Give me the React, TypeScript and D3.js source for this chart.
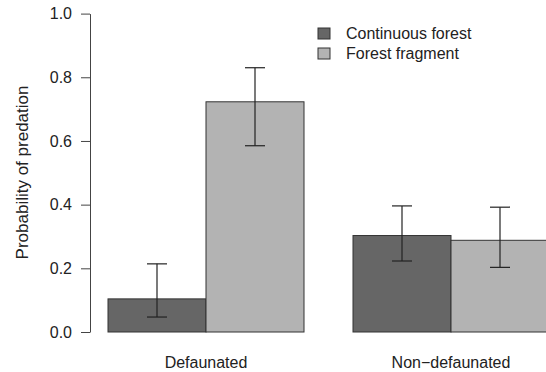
import React, { useEffect, useRef } from "react"
import * as d3 from "d3"

// data
const groups = ["Defaunated", "Non\u2212defaunated"]
const series = ["Continuous forest", "Forest fragment"]
const colors = ["#666666", "#b3b3b3"]
const means = [
    [0.104, 0.723],
    [0.303, 0.288],
]
const lower = [
    [0.047, 0.585],
    [0.223, 0.203],
]
const upper = [
    [0.214, 0.83],
    [0.396, 0.392],
]
const yTicks = [0, 0.2, 0.4, 0.6, 0.8, 1.0]

const W = 546
const H = 372
const FONT = "'Liberation Sans', Arial, Helvetica, sans-serif"

export default function App() {
    const ref = useRef<SVGSVGElement>(null)

    useEffect(() => {
        document.body.style.margin = "0"
        const svg = d3.select(ref.current)
        svg.selectAll("*").remove()

        const y = d3.scaleLinear().domain([0, 1]).range([332, 13.6])
        const x0 = d3.scaleBand<string>().domain(groups).range([108, 549]).paddingInner(0.2).paddingOuter(0)
        const x1 = d3.scaleBand<string>().domain(series).range([0, x0.bandwidth()])

        // y axis
        const axis = svg.append("g")
            .attr("transform", "translate(90,0)")
            .call(d3.axisLeft(y).tickValues(yTicks).tickFormat(d3.format(".1f")).tickSize(9).tickSizeOuter(0))
        axis.select(".domain").attr("stroke", "#444")
        axis.selectAll(".tick line").attr("stroke", "#444")
        axis.selectAll(".tick text")
            .attr("x", -18)
            .attr("font-family", FONT)
            .attr("font-size", 16)
            .attr("fill", "#222")

        svg.append("text")
            .attr("transform", `translate(27.5,172.5) rotate(-90)`)
            .attr("text-anchor", "middle")
            .attr("font-family", FONT)
            .attr("font-size", 17)
            .attr("fill", "#222")
            .text("Probability of predation")

        // bars
        const g = svg.append("g")
        groups.forEach((grp, i) => {
            series.forEach((s, j) => {
                const bx = x0(grp)! + x1(s)!
                g.append("rect")
                    .attr("x", bx)
                    .attr("y", y(means[i][j]))
                    .attr("width", x1.bandwidth())
                    .attr("height", y(0) - y(means[i][j]))
                    .attr("fill", colors[j])
                    .attr("stroke", "#333")
                    .attr("stroke-width", 1)
                const cx = bx + x1.bandwidth() / 2
                g.append("line")
                    .attr("x1", cx).attr("x2", cx)
                    .attr("y1", y(lower[i][j])).attr("y2", y(upper[i][j]))
                    .attr("stroke", "#222").attr("stroke-width", 1.2)
                ;[lower[i][j], upper[i][j]].forEach(v => {
                    g.append("line")
                        .attr("x1", cx - 10).attr("x2", cx + 10)
                        .attr("y1", y(v)).attr("y2", y(v))
                        .attr("stroke", "#222").attr("stroke-width", 1.2)
                })
            })
            svg.append("text")
                .attr("x", x0(grp)! + x0.bandwidth() / 2)
                .attr("y", 368)
                .attr("text-anchor", "middle")
                .attr("font-family", FONT)
                .attr("font-size", 16)
                .attr("fill", "#222")
                .text(grp)
        })

        // legend
        const leg = svg.append("g").attr("transform", "translate(318,28)")
        series.forEach((s, j) => {
            leg.append("rect")
                .attr("x", 0).attr("y", j * 20)
                .attr("width", 12).attr("height", 11)
                .attr("fill", colors[j])
                .attr("stroke", "#333")
            leg.append("text")
                .attr("x", 28).attr("y", j * 20 + 5.5)
                .attr("dy", "0.35em")
                .attr("font-family", FONT)
                .attr("font-size", 16)
                .attr("fill", "#222")
                .text(s)
        })
    }, [])

    return <svg ref={ref} width={W} height={H} style={{ display: "block", background: "#fff" }} />
}
